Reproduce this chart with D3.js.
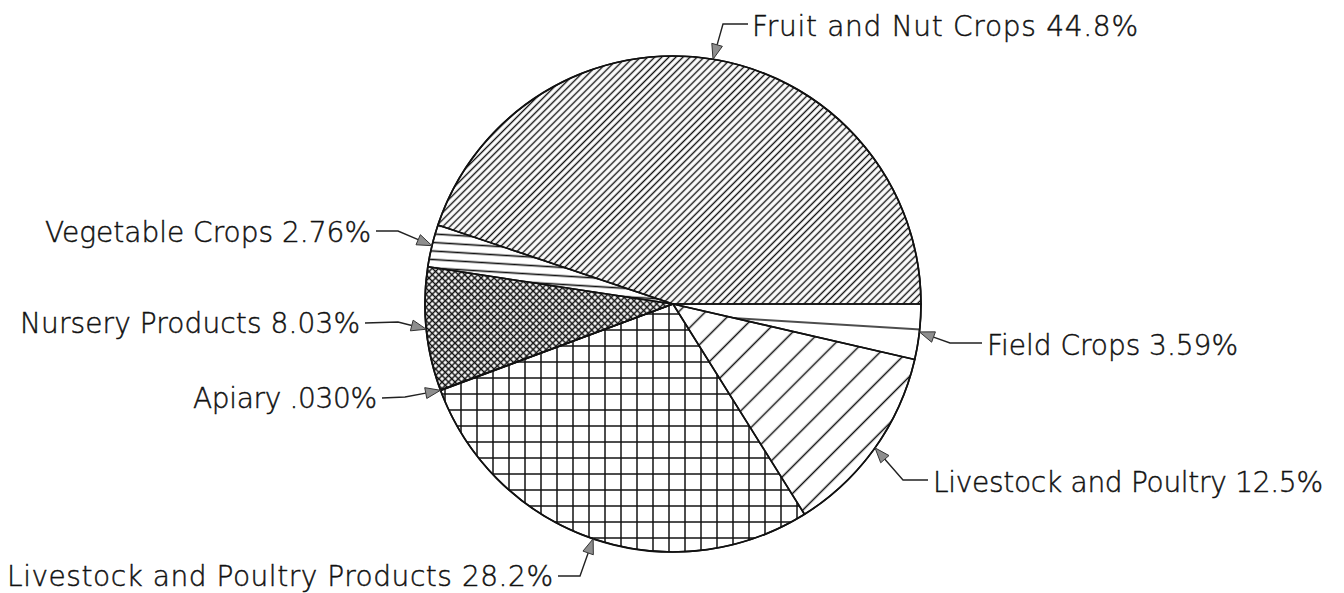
<!DOCTYPE html>
<html><head><meta charset="utf-8">
<script src="https://cdn.jsdelivr.net/npm/d3@7"></script>
<style>html,body{margin:0;padding:0;background:#fff;} svg{display:block;}</style>
</head><body>
<svg id="chart" width="1344" height="593"></svg>
<script>
// ---- data ----
const categories = ["Fruit and Nut Crops", "Vegetable Crops", "Nursery Products", "Apiary",
  "Livestock and Poultry Products", "Livestock and Poultry", "Field Crops"];
const values = [44.8, 2.76, 8.03, 0.030, 28.2, 12.5, 3.59];
const valueLabels = ["44.8%", "2.76%", "8.03%", ".030%", "28.2%", "12.5%", "3.59%"];

// ---- layout / style ----
const cx = 673, cy = 304, R = 248;
const fills = ["url(#pFruit)", "url(#pVeg)", "url(#pNursery)", "#fff", "url(#pGrid)", "url(#pLive)", "url(#pField)"];
const labelLayout = [
  {anchor: "start", x: 752, y: 36, len: 386, lead: [[748, 24], [723, 24]]},
  {anchor: "end", x: 371, y: 242, len: 326, lead: [[376, 231], [398, 231]]},
  {anchor: "end", x: 360, y: 333, len: 340, lead: [[365, 323], [398, 322]]},
  {anchor: "end", x: 377, y: 408, len: 184, lead: [[382, 398], [405, 397]]},
  {anchor: "end", x: 553, y: 586, len: 546, lead: [[558, 576], [580, 576]]},
  {anchor: "start", x: 933, y: 492, len: 390, lead: [[928, 480], [903, 480]]},
  {anchor: "start", x: 987, y: 355, len: 251, lead: [[982, 343], [950, 343]]}
];

const svg = d3.select("#chart");
const defs = svg.append("defs");

function linePattern(id, w, h, transform, lines, sw) {
  const p = defs.append("pattern").attr("id", id).attr("patternUnits", "userSpaceOnUse")
    .attr("width", w).attr("height", h)
    .attr("patternTransform", transform);
  lines.forEach(l => p.append("line").attr("x1", l[0]).attr("y1", l[1]).attr("x2", l[2]).attr("y2", l[3])
    .attr("stroke", "#111").attr("stroke-width", sw));
}
linePattern("pFruit", 20, 5, "rotate(-45)", [[0, 2.5, 20, 2.5]], 1.4);
linePattern("pVeg", 20, 8.5, "rotate(3.5)", [[0, 4.25, 20, 4.25]], 1.6);
linePattern("pNursery", 4.6, 4.6, "rotate(45)", [[0, 2.3, 4.6, 2.3], [2.3, 0, 2.3, 4.6]], 1.5);
linePattern("pGrid", 16, 16, "translate(4,2)", [[0, 8, 16, 8], [8, 0, 8, 16]], 1.5);
linePattern("pLive", 40, 19, "rotate(-45)", [[0, 9.5, 40, 9.5]], 1.5);
linePattern("pField", 60, 36, `translate(${cx},${cy}) rotate(3.5) translate(0,-18)`, [[0, 18, 60, 18]], 1.5);

const pie = d3.pie().sort(null).value(d => d).startAngle(Math.PI / 2).endAngle(Math.PI / 2 - 2 * Math.PI);
const arcs = pie(values);
const arc = d3.arc().innerRadius(0).outerRadius(R);

const g = svg.append("g").attr("transform", `translate(${cx},${cy})`);
g.selectAll("path.slice").data(arcs).join("path")
  .attr("class", "slice")
  .attr("d", arc)
  .attr("fill", (d, i) => fills[i])
  .attr("stroke", "#111")
  .attr("stroke-width", 1.6)
  .attr("stroke-linejoin", "round");

g.append("circle").attr("r", R).attr("fill", "none").attr("stroke", "#111").attr("stroke-width", 1.7);

// labels & leaders
const lab = svg.append("g");
arcs.forEach((a, i) => {
  const m = (a.startAngle + a.endAngle) / 2;
  const tip = [cx + R * Math.sin(m), cy - R * Math.cos(m)];
  const L = labelLayout[i];
  const prev = L.lead[L.lead.length - 1];
  const ang = Math.atan2(tip[1] - prev[1], tip[0] - prev[0]);
  const hl = 15, hw = 5.5;
  const base = [tip[0] - hl * Math.cos(ang), tip[1] - hl * Math.sin(ang)];
  lab.append("path").attr("d", d3.line()([...L.lead, base]))
    .attr("fill", "none").attr("stroke", "#222").attr("stroke-width", 1.4);
  const p1 = [base[0] + hw * Math.sin(ang), base[1] - hw * Math.cos(ang)];
  const p2 = [base[0] - hw * Math.sin(ang), base[1] + hw * Math.cos(ang)];
  lab.append("polygon").attr("points", [tip, p1, p2].map(p => p.join(",")).join(" "))
    .attr("fill", "#8e8e8e").attr("stroke", "#333").attr("stroke-width", 1);
  lab.append("text")
    .attr("x", L.x).attr("y", L.y)
    .attr("text-anchor", L.anchor)
    .attr("textLength", L.len).attr("lengthAdjust", "spacing")
    .attr("font-family", "'DejaVu Sans', sans-serif")
    .attr("font-weight", 200)
    .attr("font-size", 28)
    .attr("fill", "#111")
    .attr("stroke", "#111")
    .attr("stroke-width", 0.45)
    .text(categories[i] + " " + valueLabels[i]);
});
</script>
</body></html>
